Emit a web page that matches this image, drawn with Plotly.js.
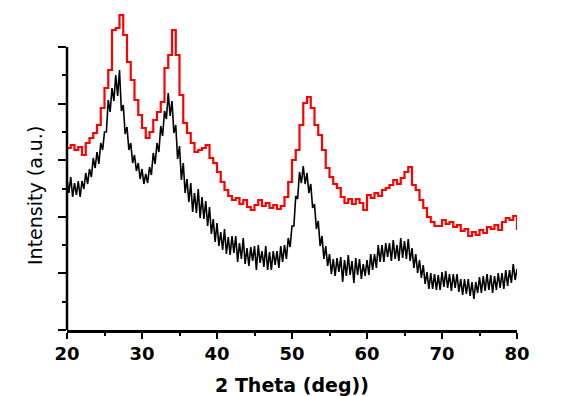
<!DOCTYPE html>
<html>
<head>
<meta charset="utf-8">
<script src="https://cdn.plot.ly/plotly-3.0.1.min.js"></script>
<style>html,body{margin:0;padding:0;background:#fff;}#chart{width:569px;height:396px;}</style>
</head>
<body>
<div id="chart"></div>
<script>
// Sample b (red): 2 Theta every 0.5 deg, intensity (a.u.)
const twoThetaB = [];
for (let i = 0; i <= 120; i++) twoThetaB.push(20 + i * 0.5);
const intensityB = [
182,185,180,183,175,187,192,197,205,222,
242,260,300,302,315,295,268,250,230,215,
202,192,198,210,218,228,262,275,300,275,
235,207,197,187,178,180,182,185,172,167,
158,148,140,134,130,132,126,130,123,120,
125,130,124,127,122,125,121,124,133,148,
170,180,205,227,233,222,205,195,180,162,
153,146,142,133,127,131,126,131,127,120,
135,132,137,134,140,142,145,150,146,152,
158,163,145,140,130,122,113,108,104,104,
110,106,108,103,105,99,101,94,98,95,
100,97,103,101,105,100,108,112,110,114,
100
];

// Sample a (black): 2 Theta every 0.25 deg (one group per degree)
const twoThetaA = [];
for (let i = 0; i <= 240; i++) twoThetaA.push(20 + i * 0.25);
const intensityA = [
151,137,153,133, 147,135,149,133, 149,141,157,146, 161,153,172,162,
178,166,187,180, 198,198,230,218, 242,229,255,234, 260,219,225,196,
203,180,187,167, 175,159,167,151, 161,146,156,147, 163,155,177,166,
187,178,204,194, 219,211,237,214, 229,197,205,171, 184,150,167,137,
151,128,147,118, 137,117,141,112, 133,111,129,104, 123,96,111,88,
107,84,98,80, 101,76,93,75, 94,77,94,68, 87,71,92,66,
82,64,83,69, 84,60,85,67, 79,63,84,60, 78,60,79,65,
79,62,84,68, 85,71,92,83, 104,104,134,131, 158,147,164,146,
157,137,146,122, 126,101,109,84, 94,71,84,64, 76,56,71,54,
72,58,73,48, 70,54,75,55, 69,47,72,55, 71,51,66,54,
70,55,76,60, 76,62,85,68, 85,68,87,73, 87,69,90,71,
85,69,92,72, 89,71,91,69, 82,62,76,57, 70,52,65,46,
58,41,57,41, 56,40,55,40, 58,43,59,42, 56,39,56,42,
56,38,51,35, 51,36,51,34, 48,31,48,37, 53,37,54,39,
56,40,55,37, 54,40,57,42, 57,41,60,44, 60,47,66,50,
61
];

const xTicks = [20,30,40,50,60,70,80];
const xMinor = [25,35,45,55,65,75];
const seriesLabels = ['a','b'];

const yTop = 283;
const yMajor = [0, 56.6, 113.2, 169.8, 226.4, 283];
const yMinor = [28.3, 84.9, 141.5, 198.1, 254.7];

const boldFont = 'DejaVu Sans, Arial, sans-serif';

const traces = [
  {x: twoThetaA, y: intensityA, mode: 'lines', name: 'a',
   line: {color: '#000000', width: 1.6}, cliponaxis: false},
  {x: twoThetaB, y: intensityB, mode: 'lines', name: 'b',
   line: {color: '#ff0000', width: 2.2, shape: 'hv'}, cliponaxis: false}
];

const layout = {
  width: 569, height: 396,
  margin: {l: 67, r: 52, t: 5, b: 66},
  paper_bgcolor: '#ffffff', plot_bgcolor: '#ffffff',
  showlegend: false,
  font: {family: boldFont, color: '#000'},
  xaxis: {
    range: [20, 80], tickvals: xTicks, ticktext: xTicks.map(String),
    ticks: 'outside', ticklen: 6, tickwidth: 2, tickcolor: '#000',
    minor: {tickvals: xMinor, ticks: 'outside', ticklen: 3, tickwidth: 2, tickcolor: '#000'},
    showline: true, linewidth: 2.5, linecolor: '#000', mirror: false,
    showgrid: false, zeroline: false,
    tickfont: {size: 18, family: boldFont, weight: 'bold'},
    title: {text: '2 Theta (deg))', font: {size: 19, family: boldFont, weight: 'bold'}, standoff: 16}
  },
  yaxis: {
    range: [0, 325], tickvals: yMajor, showticklabels: false,
    ticks: 'outside', ticklen: 8, tickwidth: 2, tickcolor: '#000',
    minor: {tickvals: yMinor, ticks: 'outside', ticklen: 4, tickwidth: 2, tickcolor: '#000'},
    showline: false, showgrid: false, zeroline: false
  },
  shapes: [
    {type: 'line', xref: 'paper', yref: 'y', x0: 0, x1: 0, y0: 0, y1: yTop,
     line: {color: '#000', width: 2.5}}
  ],
  annotations: [
    {xref: 'paper', yref: 'y', x: -0.1, y: 134, text: 'Intensity (a.u.)', textangle: -90,
     showarrow: false, font: {size: 19, family: boldFont, color: '#000'}},
    {x: 84.8, y: 43, xref: 'x', yref: 'y', text: seriesLabels[0], showarrow: false,
     font: {size: 15, family: boldFont, weight: 'bold', color: '#000'}},
    {x: 86, y: 97, xref: 'x', yref: 'y', text: seriesLabels[1], showarrow: false,
     font: {size: 15, family: boldFont, weight: 'bold', color: '#ff0000'}}
  ]
};

Plotly.newPlot('chart', traces, layout, {displayModeBar: false, staticPlot: true});
</script>
</body>
</html>
